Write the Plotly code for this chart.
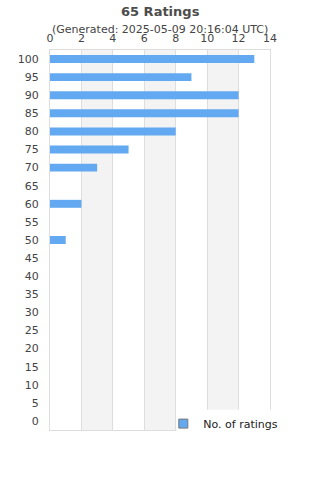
import plotly.graph_objects as go

categories = ["100", "95", "90", "85", "80", "75", "70", "65", "60", "55", "50",
              "45", "40", "35", "30", "25", "20", "15", "10", "5", "0"]
counts = [13, 9, 12, 12, 8, 5, 3, 0, 2, 0, 1, 0, 0, 0, 0, 0, 0, 0, 0, 0, 0]
series_name = "No. of ratings"
title_text = "65 Ratings"
subtitle_text = "(Generated: 2025-05-09 20:16:04 UTC)"
x_ticks = [0, 2, 4, 6, 8, 10, 12, 14]
bands = [(2, 4), (6, 8), (10, 12)]

BAR = "#63a9f2"
FONT = "DejaVu Sans"
TXT = "#444444"

fig = go.Figure()
fig.add_trace(go.Bar(
    x=counts, y=categories, orientation="h",
    marker=dict(color=BAR, line=dict(width=0)),
    showlegend=False, name=series_name,
))
fig.add_trace(go.Scatter(
    x=[None], y=[None], mode="markers", name=series_name,
    marker=dict(symbol="square", size=9, color=BAR, line=dict(color="#777777", width=1)),
    showlegend=True,
))

shapes = []
for a, b in bands:
    shapes.append(dict(type="rect", xref="x", yref="paper", x0=a, x1=b, y0=0, y1=1,
                       fillcolor="#f3f3f3", line=dict(width=0), layer="below"))
# white patch behind legend
shapes.append(dict(type="rect", xref="paper", yref="paper", x0=0.575, x1=1.05,
                   y0=-0.02, y1=0.053, fillcolor="white", line=dict(width=0), layer="above"))

fig.update_layout(
    width=320, height=480,
    margin=dict(l=50, r=50, t=50, b=50),
    paper_bgcolor="white", plot_bgcolor="white",
    font=dict(family=FONT, size=11, color=TXT),
    bargap=0.56,
    shapes=shapes,
    showlegend=True,
    legend=dict(x=0.515, xanchor="left", y=0.055, yanchor="top",
                bgcolor="rgba(0,0,0,0)", borderwidth=0,
                font=dict(family=FONT, size=11, color="#222222")),
    annotations=[
        dict(text="<b>" + title_text + "</b>", xref="paper", yref="paper",
             x=0.5, y=1, yshift=39, xanchor="center", yanchor="middle",
             showarrow=False, font=dict(family=FONT, size=13, color="#4d4d4d")),
        dict(text=subtitle_text, xref="paper", yref="paper",
             x=0.5, y=1, yshift=21, xanchor="center", yanchor="middle",
             showarrow=False, font=dict(family=FONT, size=11, color=TXT)),
    ],
)
fig.update_xaxes(
    side="top", range=[0, 14], tickvals=x_ticks,
    showgrid=True, gridcolor="#dddddd", gridwidth=1,
    showline=True, linecolor="#dddddd", linewidth=1, mirror=True,
    ticks="outside", ticklen=3, tickcolor="rgba(0,0,0,0)",
    zeroline=False, fixedrange=True,
)
fig.update_yaxes(
    type="category", categoryorder="array", categoryarray=categories,
    autorange="reversed",
    showgrid=False,
    showline=True, linecolor="#dddddd", linewidth=1, mirror=True,
    ticks="outside", ticklen=8, tickcolor="rgba(0,0,0,0)",
    fixedrange=True,
)

fig.write_html("out.html")
